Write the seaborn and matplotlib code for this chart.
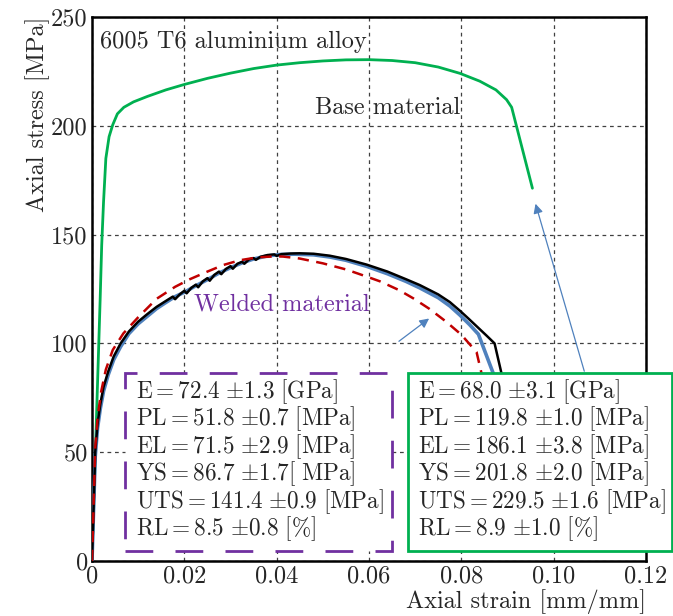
import matplotlib
matplotlib.use("Agg")
import matplotlib.pyplot as plt
import seaborn as sns
import pandas as pd
from matplotlib.patches import Rectangle

# ---- stress-strain data (strain in mm/mm, stress in MPa) ----
base_strain = [0, 0.00176, 0.0021, 0.0025, 0.003, 0.0037, 0.0045, 0.0055, 0.0069,
               0.009, 0.012, 0.016, 0.020, 0.025, 0.030, 0.035, 0.040, 0.045, 0.050,
               0.055, 0.060, 0.065, 0.070, 0.075, 0.0797, 0.084, 0.0875, 0.0898,
               0.0909, 0.0954]
base_stress = [0, 119.8, 145, 165, 185, 195, 200.5, 205.5, 208.5,
               211, 213.5, 216.5, 219, 221.8, 224.2, 226.3, 227.9, 229.0, 229.8,
               230.3, 230.4, 230.0, 229.0, 227.0, 224.1, 220.5, 216.5, 212.0,
               208.5, 171.3]

weld_strain = [0, 0.0007, 0.0012, 0.0018, 0.0025, 0.0035, 0.0047, 0.0062, 0.0080,
               0.0100, 0.0120, 0.0140, 0.0160, 0.0175, 0.0180, 0.0190, 0.0200,
               0.0205, 0.0215, 0.0225, 0.0230, 0.0240, 0.0250, 0.0255, 0.0265,
               0.0275, 0.0280, 0.0290, 0.0300, 0.0305, 0.0315, 0.0325, 0.0330,
               0.0340, 0.0350, 0.0355, 0.0365, 0.0380, 0.0395, 0.0400, 0.0410,
               0.0430, 0.0450, 0.0480, 0.0515, 0.0550, 0.0595, 0.0640, 0.0680,
               0.0710, 0.0750, 0.0775, 0.0797, 0.0815, 0.0835, 0.0855, 0.0872,
               0.0887, 0.0900]
weld_stress = [0, 50, 63, 72, 80, 87, 94, 100, 105.5,
               110, 113.5, 116.8, 119.5, 121.5, 120.3, 122.5, 124.2,
               123.0, 125.5, 127.0, 125.8, 128.5, 130.0, 128.8, 131.5,
               133.0, 131.8, 134.2, 135.5, 134.3, 136.6, 137.5, 136.6,
               138.6, 139.2, 138.4, 139.8, 140.6, 140.9, 140.2, 141.0,
               141.3, 141.4, 141.2, 140.3, 138.8, 136.2, 133.0, 129.5,
               126.8, 122.5, 119.0, 115.0, 111.5, 107.5, 103.5, 100.0,
               86.2, 60]

weld2_strain = [0, 0.0007, 0.0012, 0.0018, 0.0025, 0.0035, 0.0047, 0.0062, 0.008,
                0.010, 0.012, 0.014, 0.016, 0.018, 0.020, 0.0225, 0.025, 0.0275,
                0.030, 0.0325, 0.035, 0.038, 0.041, 0.044, 0.048, 0.0515, 0.055,
                0.0595, 0.064, 0.068, 0.071, 0.075, 0.0775, 0.0797, 0.0818,
                0.0837, 0.0869, 0.0880]
weld2_stress = [0, 48, 61, 70, 78, 85.5, 92.5, 98.5, 104.5,
                109, 112.5, 116, 118.8, 121.5, 123.5, 126.5, 129.3, 132.3,
                134.8, 137, 138.8, 140.2, 140.9, 141.0, 140.7, 139.7, 138.2,
                135.4, 132, 128.5, 125.5, 121, 117.2, 113.0, 108.6,
                104.2, 86.3, 70]

model_strain = [0, 0.0007, 0.0012, 0.002, 0.003, 0.0045, 0.0068, 0.010, 0.014, 0.018,
                0.0212, 0.025, 0.0284, 0.032, 0.0357, 0.0395, 0.0414, 0.045, 0.050,
                0.055, 0.0595, 0.0624, 0.0665, 0.0696, 0.073, 0.0767, 0.080, 0.0833,
                0.0844, 0.0850]
model_stress = [0, 52, 66, 78, 88, 97, 104.6, 112, 120.5, 126,
                129.5, 133, 136, 138.2, 139.5, 140, 139.9, 139, 136.8,
                134, 130.7, 128.5, 124.5, 120.7, 116, 110, 104, 96,
                86, 60]

x_ticks = [0, 0.02, 0.04, 0.06, 0.08, 0.10, 0.12]
x_tick_labels = ["0", "0.02", "0.04", "0.06", "0.08", "0.10", "0.12"]
y_ticks = [0, 50, 100, 150, 200, 250]
y_tick_labels = ["0", "50", "100", "150", "200", "250"]

weld_props = [r"$\mathrm{E} = 72.4\ {\pm}1.3\ \mathrm{[GPa]}$",
              r"$\mathrm{PL} = 51.8\ {\pm}0.7\ \mathrm{[MPa]}$",
              r"$\mathrm{EL} = 71.5\ {\pm}2.9\ \mathrm{[MPa]}$",
              r"$\mathrm{YS} = 86.7\ {\pm}1.7\mathrm{[\ MPa]}$",
              r"$\mathrm{UTS} = 141.4\ {\pm}0.9\ \mathrm{[MPa]}$",
              r"$\mathrm{RL} = 8.5\ {\pm}0.8\ \mathrm{[\%]}$"]
base_props = [r"$\mathrm{E} = 68.0\ {\pm}3.1\ \mathrm{[GPa]}$",
              r"$\mathrm{PL} = 119.8\ {\pm}1.0\ \mathrm{[MPa]}$",
              r"$\mathrm{EL} = 186.1\ {\pm}3.8\ \mathrm{[MPa]}$",
              r"$\mathrm{YS} = 201.8\ {\pm}2.0\ \mathrm{[MPa]}$",
              r"$\mathrm{UTS} = 229.5\ {\pm}1.6\ \mathrm{[MPa]}$",
              r"$\mathrm{RL} = 8.9\ {\pm}1.0\ \mathrm{[\%]}$"]

GREEN = "#00B050"
PURPLE = "#7030A0"
RED = "#C00000"
BLUE = "#4F81BD"
FS = 17.5

sns.set_style("white")
plt.rcParams["font.family"] = "serif"
plt.rcParams["font.serif"] = ["cmr10"]
plt.rcParams["mathtext.fontset"] = "cm"
plt.rcParams["axes.formatter.use_mathtext"] = True
plt.rcParams["axes.unicode_minus"] = False

W, H = 673, 616
fig = plt.figure(figsize=(W / 100, H / 100), dpi=100)
ax = fig.add_axes([92 / W, 1 - 561 / H, (646 - 92) / W, (561 - 17) / H])

def curve(strain, stress):
    return pd.DataFrame({"strain": strain, "stress": stress})

sns.lineplot(data=curve(base_strain, base_stress), x="strain", y="stress",
             sort=False, estimator=None, color=GREEN, linewidth=2.0, ax=ax, zorder=3)
sns.lineplot(data=curve(weld2_strain, weld2_stress), x="strain", y="stress",
             sort=False, estimator=None, color=BLUE, linewidth=2.6, ax=ax, zorder=3)
sns.lineplot(data=curve(weld_strain, weld_stress), x="strain", y="stress",
             sort=False, estimator=None, color="black", linewidth=1.8, ax=ax, zorder=4)
sns.lineplot(data=curve(model_strain, model_stress), x="strain", y="stress",
             sort=False, estimator=None, color=RED, linewidth=1.8, ax=ax, zorder=5,
             dashes=False)
ax.lines[-1].set_dashes((4.5, 3))

ax.set_xlim(0, 0.12)
ax.set_ylim(0, 250)
ax.set_xticks(x_ticks)
ax.set_xticklabels(x_tick_labels)
ax.set_yticks(y_ticks)
ax.set_yticklabels(y_tick_labels)
ax.tick_params(axis="both", length=0, labelsize=FS, pad=3)
ax.grid(True, linestyle=(0, (3, 3)), color="0.25", linewidth=0.9)
ax.set_axisbelow(True)
for s in ax.spines.values():
    s.set_linewidth(1.8)
    s.set_color("black")

ax.set_xlabel("Axial strain [mm/mm]", fontsize=FS, loc="right", labelpad=1)
ax.set_ylabel("Axial stress [MPa]", fontsize=FS, loc="top", labelpad=1)

ax.text(0.0017, 238.5, "6005 T6 aluminium alloy", fontsize=FS, va="center", ha="left")
ax.text(0.0483, 208, "Base material", fontsize=FS, va="center", ha="left")
ax.text(0.0412, 118, "Welded material", fontsize=FS, va="center", ha="center",
        color=PURPLE)

arrow = dict(arrowstyle="-|>", color=BLUE, lw=0.9, mutation_scale=14)
ax.annotate("", xy=(0.0735, 112.2), xytext=(0.066, 100.2), arrowprops=arrow, zorder=6)
ax.annotate("", xy=(0.0959, 165.4), xytext=(0.1068, 86), arrowprops=arrow, zorder=6)

# property boxes (figure pixel coordinates)
def box(x0, x1, y0, y1, **kw):
    r = Rectangle((x0 / W, 1 - y1 / H), (x1 - x0) / W, (y1 - y0) / H,
                  transform=fig.transFigure, facecolor="white", zorder=10,
                  clip_on=False, **kw)
    fig.add_artist(r)

box(125, 392, 373, 551, edgecolor=PURPLE, linewidth=2.0, linestyle=(0, (10, 8)))
box(408, 672, 373, 551, edgecolor=GREEN, linewidth=2.0)

prop_texts = []
for i, (a, b) in enumerate(zip(weld_props, base_props)):
    y = 1 - (391.5 + 27.5 * i) / H
    prop_texts.append(fig.text(136 / W, y, a, fontsize=FS, va="center", ha="left", zorder=11))
    prop_texts.append(fig.text(418 / W, y, b, fontsize=FS, va="center", ha="left", zorder=11))

# size the property text so the longest line fits inside the green box
renderer = fig.canvas.get_renderer()
widest = max(t.get_window_extent(renderer).width for t in prop_texts)
box_fs = FS * 248.0 / widest
for t in prop_texts:
    t.set_fontsize(box_fs)

fig.savefig("out.png", dpi=100)
